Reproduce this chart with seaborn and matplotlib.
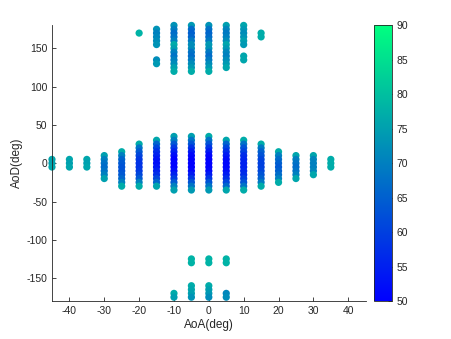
import pandas as pd
import matplotlib
matplotlib.use('Agg')
import matplotlib.pyplot as plt
import seaborn as sns
import numpy as np

# AoD values (deg) and power for each AoA column, main cluster around AoD 0
main_aod = {
    -45: [5, 0, -5],
    -40: [5, 0, -5],
    -35: [5, 0, -5],
    -30: [10, 5, 0, -5, -10, -15, -20],
    -25: [15, 10, 5, 0, -5, -10, -15, -20, -25, -30],
    -20: [25, 20, 15, 10, 5, 0, -5, -10, -15, -20, -25, -30],
    -15: [30, 25, 20, 15, 10, 5, 0, -5, -10, -15, -20, -25, -30],
    -10: [35, 30, 25, 20, 15, 10, 5, 0, -5, -10, -15, -20, -25, -30, -35],
    -5: [35, 30, 25, 20, 15, 10, 5, 0, -5, -10, -15, -20, -25, -30, -35],
    0: [35, 30, 25, 20, 15, 10, 5, 0, -5, -10, -15, -20, -25, -30, -35],
    5: [30, 25, 20, 15, 10, 5, 0, -5, -10, -15, -20, -25, -30, -35],
    10: [30, 25, 20, 15, 10, 5, 0, -5, -10, -15, -20, -25, -30, -35],
    15: [25, 20, 15, 10, 5, 0, -5, -10, -15, -20, -25, -30],
    20: [15, 10, 5, 0, -5, -10, -15, -20, -25],
    25: [10, 5, 0, -5, -10, -15, -20],
    30: [10, 5, 0, -5, -10, -15],
    35: [5, 0, -5],
}
main_pow = {
    -45: [76, 75, 76],
    -40: [76, 75, 76],
    -35: [76, 75, 76],
    -30: [75, 70, 68, 67, 68, 70, 75],
    -25: [77, 70, 66, 64, 63, 63, 64, 66, 70, 77],
    -20: [77, 68, 64, 61, 59, 58, 58, 59, 61, 64, 70, 77],
    -15: [76, 66, 61, 57, 55, 53, 52, 53, 55, 57, 61, 66, 76],
    -10: [75, 70, 64, 59, 55, 52, 50, 50, 50, 52, 55, 59, 64, 70, 75],
    -5: [75, 68, 63, 58, 54, 51, 50, 50, 50, 51, 54, 58, 63, 68, 74],
    0: [77, 68, 63, 58, 54, 51, 50, 50, 50, 51, 54, 58, 63, 68, 74],
    5: [76, 66, 61, 57, 54, 52, 51, 51, 52, 54, 57, 61, 66, 76],
    10: [77, 68, 63, 60, 57, 56, 55, 55, 56, 57, 60, 63, 68, 77],
    15: [77, 69, 65, 63, 61, 60, 60, 61, 63, 65, 69, 77],
    20: [77, 70, 67, 65, 64, 65, 67, 70, 77],
    25: [76, 70, 68, 67, 68, 70, 76],
    30: [76, 71, 70, 70, 71, 76],
    35: [77, 77, 77],
}

# upper cluster near AoD +180
top_aod = {
    -20: [170],
    -15: [175, 170, 165, 160, 155, 135, 130],
    -10: [180, 175, 170, 165, 160, 155, 150, 145, 140, 135, 130, 125, 120],
    -5: [180, 175, 170, 165, 160, 155, 150, 145, 140, 135, 130, 125, 120],
    0: [180, 175, 170, 165, 160, 155, 150, 145, 140, 135, 130, 125, 120],
    5: [180, 175, 170, 165, 160, 155, 150, 145, 140, 135, 130, 125],
    10: [180, 175, 170, 165, 160, 155, 140, 135],
    15: [170, 165],
}
top_pow = {
    -20: [78],
    -15: [73, 70, 71, 72, 73, 72, 74],
    -10: [73, 70, 67, 68, 70, 77, 75, 70, 68, 70, 72, 75, 77],
    -5: [74, 67, 65, 66, 69, 72, 72, 68, 67, 69, 72, 74, 77],
    0: [73, 68, 66, 67, 69, 74, 73, 69, 67, 69, 72, 74, 77],
    5: [75, 71, 69, 70, 72, 76, 74, 71, 70, 72, 74, 76],
    10: [76, 74, 72, 73, 75, 74, 76, 76],
    15: [77, 77],
}

# lower cluster near AoD -180
bot_aod = {
    -10: [-170, -175],
    -5: [-125, -130, -160, -165, -170, -175],
    0: [-125, -130, -160, -165, -170, -175],
    5: [-125, -130, -170, -175],
}
bot_pow = {
    -10: [77, 75],
    -5: [78, 78, 77, 76, 75, 73],
    0: [78, 78, 77, 75, 74, 72],
    5: [78, 78, 71, 72],
}

rows = []
for aods, pows in [(main_aod, main_pow), (top_aod, top_pow), (bot_aod, bot_pow)]:
    for aoa in aods:
        for d, p in zip(aods[aoa], pows[aoa]):
            rows.append({'AoA': aoa, 'AoD': d, 'power': p})
df = pd.DataFrame(rows)

sns.set_style('ticks')
plt.rcParams['font.family'] = ['Liberation Sans', 'DejaVu Sans']
plt.rcParams['axes.unicode_minus'] = False

grey = '#262626'
fig = plt.figure(figsize=(4.52, 3.39), dpi=100)
ax = fig.add_axes([0.115, 0.112, 0.694, 0.813])
cax = fig.add_axes([0.828, 0.112, 0.0385, 0.813])

sns.scatterplot(data=df, x='AoA', y='AoD', hue='power', palette='winter',
                hue_norm=(50, 90), s=27, linewidth=0, legend=False, ax=ax,
                clip_on=False)

ax.set_xlim(-45, 45)
ax.set_ylim(-180, 180)
ax.set_xticks([-40, -30, -20, -10, 0, 10, 20, 30, 40])
ax.set_yticks([-150, -100, -50, 0, 50, 100, 150])
ax.set_xlabel('AoA(deg)', fontsize=8.5, color=grey, labelpad=2)
ax.set_ylabel('AoD(deg)', fontsize=8.5, color=grey, labelpad=2)
ax.tick_params(direction='in', length=3, labelsize=7.5, colors=grey, width=0.6)
sns.despine(ax=ax)
for sp in ['left', 'bottom']:
    ax.spines[sp].set_color(grey)
    ax.spines[sp].set_linewidth(0.6)

sm = plt.cm.ScalarMappable(cmap='winter', norm=plt.Normalize(50, 90))
cb = fig.colorbar(sm, cax=cax, ticks=[50, 55, 60, 65, 70, 75, 80, 85, 90])
cb.outline.set_edgecolor(grey)
cb.outline.set_linewidth(0.6)
cax.tick_params(direction='in', length=3, labelsize=7.5, colors=grey, width=0.6)

plt.savefig('out.png', dpi=100)
plt.close()
